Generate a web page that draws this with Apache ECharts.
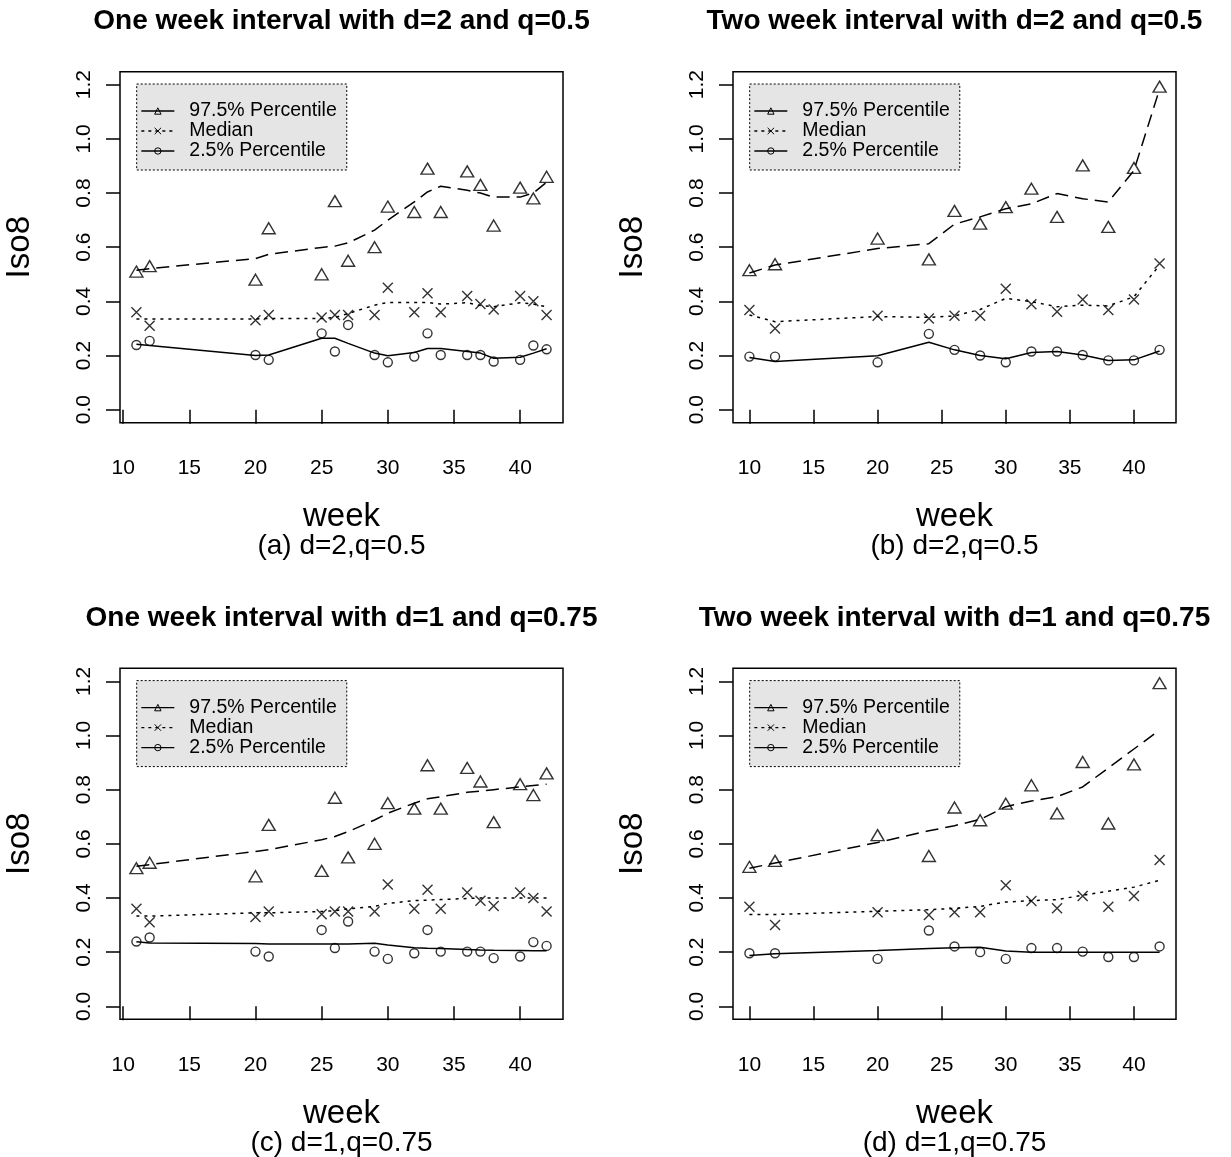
<!DOCTYPE html>
<html>
<head>
<meta charset="utf-8">
<script src="https://cdn.jsdelivr.net/npm/echarts@6/dist/echarts.min.js"></script>
<style>
  html, body { margin: 0; padding: 0; background: #fff; }
  #chart { width: 1231px; height: 1157px; }
</style>
</head>
<body>
<div id="chart"></div>
<script>
// ---------- data ----------
const weeksOne = [11, 12, 20, 21, 25, 26, 27, 29, 30, 32, 33, 34, 36, 37, 38, 40, 41, 42];
const weeksTwo = [10, 12, 20, 24, 26, 28, 30, 32, 34, 36, 38, 40, 42];

// observed values (same in the d=2 and d=1 panels)
const upperObsOne  = [0.51, 0.53, 0.48, 0.67, 0.50, 0.77, 0.55, 0.60, 0.75, 0.73, 0.89, 0.73, 0.88, 0.83, 0.68, 0.82, 0.78, 0.86];
const medianObsOne = [0.36, 0.31, 0.33, 0.35, 0.34, 0.35, 0.35, 0.35, 0.45, 0.36, 0.43, 0.36, 0.42, 0.39, 0.37, 0.42, 0.40, 0.35];
const lowerObsOne  = [0.239, 0.254, 0.202, 0.184, 0.282, 0.215, 0.313, 0.202, 0.175, 0.196, 0.282, 0.202, 0.202, 0.202, 0.178, 0.184, 0.237, 0.223];

const upperObsTwo  = [0.515, 0.537, 0.632, 0.555, 0.734, 0.687, 0.748, 0.816, 0.712, 0.902, 0.675, 0.893, 1.193];
const medianObsTwo = [0.368, 0.30, 0.347, 0.337, 0.347, 0.347, 0.447, 0.389, 0.362, 0.407, 0.368, 0.407, 0.54];
const lowerObsTwo  = [0.196, 0.196, 0.175, 0.28, 0.221, 0.20, 0.175, 0.215, 0.215, 0.202, 0.182, 0.182, 0.221];

// fitted curves
const upperFitA  = [0.515, 0.521, 0.558, 0.574, 0.599, 0.604, 0.616, 0.663, 0.70, 0.767, 0.804, 0.825, 0.81, 0.80, 0.785, 0.785, 0.80, 0.84];
const medianFitA = [0.335, 0.335, 0.335, 0.337, 0.337, 0.34, 0.355, 0.386, 0.396, 0.396, 0.396, 0.39, 0.395, 0.385, 0.38, 0.395, 0.39, 0.38];
const lowerFitA  = [0.242, 0.237, 0.20, 0.202, 0.264, 0.264, 0.245, 0.209, 0.199, 0.211, 0.226, 0.226, 0.215, 0.209, 0.19, 0.194, 0.209, 0.225];

const upperFitB  = [0.505, 0.534, 0.595, 0.613, 0.685, 0.712, 0.742, 0.76, 0.798, 0.779, 0.767, 0.883, 1.184];
const medianFitB = [0.35, 0.325, 0.344, 0.341, 0.346, 0.37, 0.411, 0.399, 0.38, 0.386, 0.383, 0.417, 0.534];
const lowerFitB  = [0.193, 0.178, 0.199, 0.249, 0.221, 0.20, 0.188, 0.211, 0.215, 0.202, 0.182, 0.184, 0.217];

const upperFitC  = [0.517, 0.523, 0.572, 0.578, 0.615, 0.627, 0.645, 0.688, 0.713, 0.75, 0.766, 0.774, 0.79, 0.795, 0.80, 0.81, 0.815, 0.82];
const medianFitC = [0.333, 0.333, 0.345, 0.345, 0.35, 0.353, 0.36, 0.369, 0.38, 0.39, 0.392, 0.394, 0.398, 0.40, 0.40, 0.40, 0.40, 0.40];
const lowerFitC  = [0.238, 0.234, 0.232, 0.23, 0.23, 0.23, 0.23, 0.233, 0.226, 0.216, 0.214, 0.213, 0.21, 0.208, 0.207, 0.206, 0.205, 0.205];

const upperFitD  = [0.51, 0.529, 0.605, 0.648, 0.667, 0.69, 0.737, 0.758, 0.774, 0.81, 0.88, 0.95, 1.02];
const medianFitD = [0.339, 0.339, 0.351, 0.357, 0.361, 0.369, 0.385, 0.39, 0.394, 0.41, 0.425, 0.44, 0.465];
const lowerFitD  = [0.188, 0.194, 0.206, 0.213, 0.216, 0.218, 0.204, 0.20, 0.20, 0.20, 0.20, 0.20, 0.20];

const xTickValues = [10, 15, 20, 25, 30, 35, 40];
const yTickValues = [0, 0.2, 0.4, 0.6, 0.8, 1.0, 1.2];

const panelTitles = [
  'One week interval with d=2 and q=0.5',
  'Two week interval with d=2 and q=0.5',
  'One week interval with d=1 and q=0.75',
  'Two week interval with d=1 and q=0.75'
];
const panelCaptions = ['(a) d=2,q=0.5', '(b) d=2,q=0.5', '(c) d=1,q=0.75', '(d) d=1,q=0.75'];
const seriesNames = ['97.5% Percentile', 'Median', '2.5% Percentile'];

// ---------- layout ----------
const FONT = '"Liberation Sans", Arial, Helvetica, sans-serif';
const panels = [
  { weeks: weeksOne, obs: [upperObsOne, medianObsOne, lowerObsOne], fit: [upperFitA, medianFitA, lowerFitA], xMin: 9.76, xMax: 43.24, left: 120, top: 71.7 },
  { weeks: weeksTwo, obs: [upperObsTwo, medianObsTwo, lowerObsTwo], fit: [upperFitB, medianFitB, lowerFitB], xMin: 8.72, xMax: 43.28, left: 733, top: 71.7 },
  { weeks: weeksOne, obs: [upperObsOne, medianObsOne, lowerObsOne], fit: [upperFitC, medianFitC, lowerFitC], xMin: 9.76, xMax: 43.24, left: 120, top: 668.3 },
  { weeks: weeksTwo, obs: [upperObsTwo, medianObsTwo, lowerObsTwo], fit: [upperFitD, medianFitD, lowerFitD], xMin: 8.72, xMax: 43.28, left: 733, top: 668.3 }
];
const GW = 443, GH = 351;

const xSymbol = 'path://M0,0L10,10M10,0L0,10';
const symbols = ['triangle', xSymbol, 'circle'];
const symbolSizes = [[13, 11], 10, 9];
const lineTypes = [[13, 7], [3, 5], 'solid'];

const zip = (xs, ys) => xs.map((x, i) => [x, ys[i]]);

const grid = [], xAxis = [], yAxis = [], series = [], title = [], legend = [];

panels.forEach((p, i) => {
  const cx = p.left + GW / 2;
  grid.push({ left: p.left, top: p.top, width: GW, height: GH, show: true,
    borderColor: '#000', borderWidth: 1.5, backgroundColor: 'transparent' });

  xAxis.push({
    gridIndex: i, type: 'value', min: p.xMin, max: p.xMax,
    axisLine: { show: false }, splitLine: { show: false },
    axisTick: { show: true, length: 14, lineStyle: { color: '#000', width: 1.5 }, customValues: xTickValues },
    axisLabel: { customValues: xTickValues, fontSize: 21, color: '#000', margin: 35, fontFamily: FONT },
    name: 'week', nameLocation: 'middle', nameGap: 78,
    nameTextStyle: { fontSize: 33, color: '#000', fontFamily: FONT }
  });
  yAxis.push({
    gridIndex: i, type: 'value', min: -0.048, max: 1.248,
    axisLine: { show: false }, splitLine: { show: false },
    axisTick: { show: true, length: 14, lineStyle: { color: '#000', width: 1.5 }, customValues: yTickValues },
    axisLabel: { customValues: yTickValues, rotate: 90, fontSize: 21, color: '#000', margin: 25, fontFamily: FONT,
      formatter: v => v.toFixed(1) },
    name: 'Iso8', nameLocation: 'middle', nameGap: 84,
    nameTextStyle: { fontSize: 33, color: '#000', fontFamily: FONT }
  });

  for (let k = 0; k < 3; k++) {
    series.push({
      type: 'line', name: seriesNames[k], xAxisIndex: i, yAxisIndex: i,
      data: zip(p.weeks, p.fit[k]), showSymbol: false, symbol: symbols[k],
      lineStyle: { color: '#000', width: 1.5, type: lineTypes[k] },
      itemStyle: { color: '#000' }, silent: true, animation: false, z: 3
    });
    series.push({
      type: 'scatter', name: seriesNames[k] + ' (observed)', xAxisIndex: i, yAxisIndex: i,
      data: zip(p.weeks, p.obs[k]), symbol: symbols[k], symbolSize: symbolSizes[k],
      itemStyle: { color: 'transparent', borderColor: '#000', borderWidth: 1.4 },
      silent: true, animation: false, z: 4
    });
  }

  title.push({ text: panelTitles[i], left: cx, top: p.top - 64, textAlign: 'center', padding: 0,
    textStyle: { fontSize: 28, fontWeight: 'bold', color: '#000', fontFamily: FONT } });
  title.push({ text: panelCaptions[i], left: cx, top: p.top + 461, textAlign: 'center', padding: 0,
    textStyle: { fontSize: 28, fontWeight: 'normal', color: '#000', fontFamily: FONT } });

  legend.push({
    orient: 'vertical', left: p.left + 16.7, top: p.top + 12.3,
    data: [
      { name: seriesNames[0], lineStyle: { type: 'solid' } },
      { name: seriesNames[1], lineStyle: { type: [3, 4] } },
      { name: seriesNames[2], lineStyle: { type: 'solid' } }
    ],
    selectedMode: false,
    backgroundColor: '#e5e5e5', borderColor: '#000', borderWidth: 1, borderType: [2, 2],
    padding: [17, 10, 9, 4], itemGap: 0, itemWidth: 33, itemHeight: 8,
    itemStyle: { color: 'transparent', borderColor: '#000', borderWidth: 1 },
    lineStyle: { color: '#000', width: 1.3 },
    textStyle: { fontSize: 19.5, lineHeight: 20, color: '#000', fontFamily: FONT, padding: [0, 0, 0, 10] }
  });
});

const chart = echarts.init(document.getElementById('chart'), null, { renderer: 'canvas' });
chart.setOption({
  animation: false,
  backgroundColor: '#fff',
  color: ['#000'],
  title, legend, grid, xAxis, yAxis, series
});
</script>
</body>
</html>
